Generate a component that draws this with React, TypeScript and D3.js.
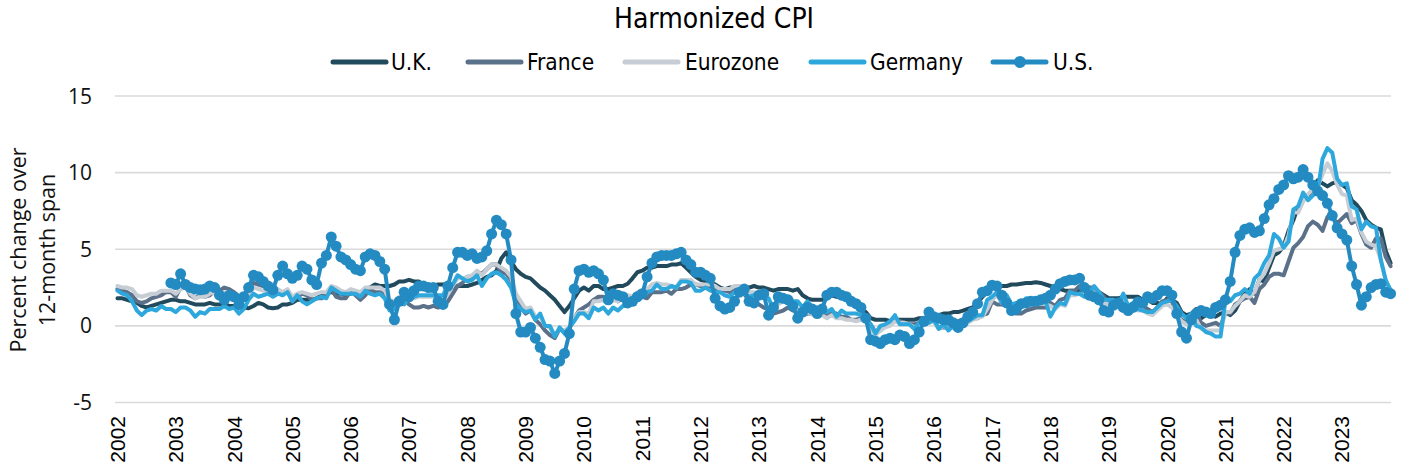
import React from "react";
import * as d3 from "d3";

const startYear = 2002;
const monthCount = 263; // Jan 2002 .. Nov 2023
const tickYears = [2002, 2003, 2004, 2005, 2006, 2007, 2008, 2009, 2010, 2011, 2012, 2013, 2014, 2015, 2016, 2017, 2018, 2019, 2020, 2021, 2022, 2023];
const yTicks = [-5, 0, 5, 10, 15];

const ukValues = [
  1.8,1.8,1.7,1.6,1.5,1.3,1.2,1.3,1.4,1.5,1.6,1.7,
  1.7,1.6,1.6,1.5,1.4,1.4,1.4,1.5,1.4,1.4,1.4,1.3,
  1.3,1.2,1.2,1.15,1.3,1.5,1.4,1.2,1.15,1.2,1.4,1.4,
  1.5,1.7,1.7,1.7,1.7,1.8,2.0,2.1,2.2,2.1,2.1,2.0,
  2.1,2.2,2.2,2.3,2.5,2.7,2.6,2.6,2.6,2.7,2.9,2.9,
  3.0,2.9,2.9,2.7,2.6,2.6,2.7,2.7,2.6,2.5,2.6,2.6,
  2.6,2.7,2.8,3.0,3.2,3.3,3.6,4.4,4.8,4.2,3.7,3.4,
  3.2,3.1,2.8,2.5,2.3,2.0,1.7,1.3,0.9,1.3,1.8,2.3,
  2.5,2.3,2.6,2.6,2.4,2.4,2.5,2.6,2.6,2.75,3.1,3.5,
  3.6,3.8,3.8,3.9,3.9,3.9,4.0,4.0,4.1,3.8,3.5,3.2,
  3.0,2.9,2.8,2.7,2.5,2.4,2.5,2.5,2.5,2.5,2.5,2.6,
  2.5,2.5,2.4,2.3,2.4,2.4,2.4,2.3,2.4,2.0,1.8,1.7,
  1.7,1.7,1.8,2.0,1.9,1.9,1.9,1.6,1.4,1.2,0.9,0.5,
  0.4,0.4,0.4,0.3,0.4,0.4,0.4,0.4,0.4,0.5,0.5,0.6,
  0.7,0.7,0.8,0.8,0.9,0.9,1.0,1.1,1.2,1.5,1.9,2.2,
  2.5,2.6,2.6,2.6,2.7,2.7,2.75,2.8,2.8,2.85,2.8,2.7,
  2.6,2.5,2.4,2.3,2.3,2.3,2.3,2.4,2.3,2.2,2.2,2.0,
  1.8,1.8,1.8,1.9,1.9,1.9,1.9,1.7,1.7,1.5,1.5,1.4,
  1.8,1.7,1.5,0.9,0.7,0.8,1.1,0.5,0.7,0.9,0.6,0.8,
  0.9,0.7,1.0,1.6,2.1,2.4,2.1,3.0,2.9,3.8,4.6,4.8,
  5.2,6.2,6.9,7.8,8.2,8.5,8.9,9.5,9.3,9.1,9.3,9.4,
  9.2,9.0,8.2,7.9,7.5,6.9,6.6,6.4,6.3,4.9,4.1,
];

const franceValues = [
  2.4,2.3,2.2,2.0,1.6,1.5,1.6,1.8,1.9,2.0,2.2,2.2,
  1.9,2.5,2.6,2.0,1.8,2.0,1.9,2.0,2.3,2.3,2.5,2.4,
  2.2,1.9,2.0,2.4,2.8,2.7,2.6,2.5,2.2,2.3,2.2,2.3,
  1.6,1.9,2.1,2.0,1.7,1.8,1.8,2.0,2.4,1.9,1.8,1.8,
  2.3,2.0,1.7,2.0,2.4,2.2,2.2,2.1,1.5,1.2,1.6,1.7,
  1.4,1.2,1.2,1.3,1.2,1.3,1.2,1.3,1.6,2.1,2.6,2.8,
  3.2,3.2,3.5,3.4,3.7,4.0,4.0,3.5,3.4,3.0,1.9,1.2,
  0.8,1.0,0.4,0.1,-0.3,-0.6,-0.8,-0.2,-0.4,-0.2,0.5,1.0,
  1.2,1.4,1.7,1.9,1.9,1.7,1.9,1.6,1.8,1.8,1.8,2.0,
  1.9,1.8,2.2,2.2,2.2,2.3,2.1,2.4,2.4,2.5,2.7,2.7,
  2.6,2.5,2.6,2.4,2.3,2.3,2.2,2.4,2.2,2.1,1.6,1.5,
  1.4,1.2,1.1,0.8,0.9,1.0,1.2,1.0,1.0,0.7,0.8,0.8,
  0.8,1.1,0.7,0.8,0.8,0.6,0.6,0.4,0.4,0.5,0.4,0.1,
  -0.4,-0.3,0.0,0.1,0.3,0.3,0.2,0.1,0.1,0.2,0.1,0.3,
  0.3,-0.1,-0.1,-0.1,0.1,0.3,0.4,0.4,0.5,0.5,0.7,0.8,
  1.6,1.4,1.4,1.4,0.9,0.8,0.8,1.0,1.1,1.2,1.2,1.2,
  1.5,1.3,1.7,1.8,2.3,2.3,2.6,2.6,2.5,2.5,2.2,1.9,
  1.4,1.6,1.3,1.5,1.1,1.4,1.3,1.3,1.1,0.9,1.2,1.6,
  1.7,1.6,0.8,0.4,0.2,0.2,0.9,0.2,0.0,0.1,0.2,0.0,
  0.8,0.8,1.4,1.6,1.8,1.9,1.5,2.4,2.7,3.2,3.4,3.4,
  3.3,4.2,5.1,5.4,5.8,6.5,6.8,6.6,6.2,7.1,7.1,6.7,
  7.0,7.3,6.7,6.9,6.0,5.3,5.1,5.7,5.7,4.5,3.9,
];

const eurozoneValues = [
  2.6,2.5,2.5,2.4,2.0,1.9,2.0,2.1,2.1,2.3,2.3,2.3,
  2.1,2.4,2.5,2.1,1.8,1.9,1.9,2.1,2.2,2.0,2.2,2.0,
  1.9,1.6,1.7,2.0,2.5,2.4,2.3,2.3,2.1,2.4,2.2,2.4,
  1.9,2.1,2.2,2.1,2.0,2.1,2.2,2.2,2.6,2.5,2.3,2.2,
  2.4,2.3,2.2,2.5,2.5,2.5,2.5,2.3,1.7,1.6,1.9,1.9,
  1.8,1.8,1.9,1.9,1.9,1.9,1.8,1.7,2.1,2.6,3.1,3.1,
  3.2,3.3,3.6,3.3,3.7,4.0,4.0,3.8,3.6,3.2,2.1,1.6,
  1.1,1.2,0.6,0.6,0.0,-0.1,-0.6,-0.2,-0.3,-0.1,0.5,0.9,
  0.9,0.8,1.6,1.6,1.7,1.5,1.7,1.6,1.9,2.0,1.9,2.2,
  2.3,2.4,2.7,2.8,2.7,2.7,2.6,2.5,3.0,3.0,3.0,2.7,
  2.7,2.7,2.7,2.6,2.4,2.4,2.4,2.6,2.6,2.5,2.2,2.2,
  2.0,1.8,1.7,1.2,1.4,1.6,1.6,1.3,1.1,0.7,0.9,0.8,
  0.8,0.7,0.5,0.7,0.5,0.5,0.4,0.4,0.3,0.4,0.3,-0.2,
  -0.6,-0.3,-0.1,0.0,0.3,0.2,0.2,0.1,-0.1,0.1,0.1,0.2,
  0.3,-0.2,0.0,-0.2,-0.1,0.1,0.2,0.2,0.4,0.5,0.6,1.1,
  1.7,2.0,1.5,1.9,1.4,1.3,1.3,1.5,1.5,1.4,1.5,1.4,
  1.3,1.1,1.4,1.3,2.0,2.0,2.1,2.0,2.1,2.2,1.9,1.5,
  1.4,1.5,1.4,1.7,1.2,1.3,1.0,1.0,0.8,0.7,1.0,1.3,
  1.4,1.2,0.7,0.3,0.1,0.3,0.4,-0.2,-0.3,-0.3,-0.3,-0.3,
  0.9,0.9,1.3,1.6,2.0,1.9,2.2,3.0,3.4,4.1,4.9,5.0,
  5.1,5.9,7.4,7.4,8.1,8.6,8.9,9.1,9.9,10.6,10.1,9.2,
  8.6,8.5,6.9,7.0,6.1,5.5,5.3,5.2,4.3,2.9,2.4,
];

const germanyValues = [
  2.3,2.1,2.0,1.6,1.0,0.7,1.0,1.1,1.0,1.3,1.1,1.1,
  0.9,1.2,1.2,1.0,0.6,0.9,0.8,1.1,1.1,1.1,1.3,1.1,
  1.2,0.8,1.1,1.7,2.1,1.9,2.0,2.1,1.9,2.1,2.0,2.2,
  1.6,2.0,1.6,1.4,1.6,1.8,1.9,1.8,2.5,2.3,2.1,2.1,
  2.1,2.1,1.9,2.3,2.1,2.0,2.1,1.8,1.0,1.1,1.5,1.4,
  1.8,1.9,2.0,2.0,2.0,2.0,2.0,2.0,2.7,2.7,3.3,3.1,
  2.9,3.0,3.3,2.6,3.1,3.4,3.5,3.3,3.0,2.5,1.4,1.1,
  0.9,1.0,0.4,0.8,0.0,0.0,-0.7,-0.1,-0.5,-0.1,0.3,0.8,
  0.8,0.5,1.2,1.0,1.2,0.8,1.2,1.0,1.3,1.3,1.6,1.9,
  2.0,2.2,2.3,2.7,2.4,2.4,2.6,2.5,2.9,2.9,2.8,2.3,
  2.3,2.5,2.3,2.2,2.2,2.0,1.9,2.2,2.1,2.1,1.9,2.0,
  1.9,1.8,1.8,1.1,1.6,1.9,1.9,1.6,1.6,1.2,1.6,1.2,
  1.2,1.0,0.9,1.1,0.6,1.0,0.8,0.8,0.8,0.7,0.5,0.1,
  -0.5,0.0,0.1,0.3,0.7,0.1,0.1,0.1,-0.2,0.2,0.3,0.2,
  0.4,-0.2,0.1,-0.3,0.0,0.2,0.4,0.3,0.5,0.7,0.7,1.7,
  1.9,2.2,1.5,2.0,1.4,1.5,1.5,1.8,1.8,1.5,1.8,1.6,
  0.6,1.2,1.5,1.4,2.2,2.1,2.1,1.9,2.2,2.6,2.2,1.7,
  1.7,1.7,1.4,2.1,1.3,1.5,1.1,1.0,0.9,0.9,1.2,1.5,
  1.6,1.7,1.3,0.8,0.5,0.8,0.0,-0.1,-0.4,-0.5,-0.7,-0.7,
  1.6,1.6,2.0,2.1,2.4,2.1,3.1,3.4,4.1,4.6,6.0,5.7,
  5.1,5.5,7.6,7.8,8.7,8.2,8.5,8.8,10.9,11.6,11.3,9.6,
  9.2,9.3,7.8,7.6,6.3,6.8,6.5,6.4,4.3,3.0,2.3,
];

const usValues: (number | null)[] = [
  null,null,null,null,null,null,null,null,null,null,null,2.8,
  2.7,3.4,2.7,2.5,2.4,2.35,2.4,2.6,2.5,2.0,1.7,2.0,
  1.9,1.4,1.9,2.5,3.3,3.2,2.9,2.6,2.35,3.3,3.9,3.4,
  3.1,3.3,3.9,3.7,3.0,2.7,4.1,4.6,5.8,5.2,4.5,4.3,
  4.0,3.7,3.6,4.5,4.7,4.6,4.2,3.7,1.4,0.4,1.6,2.2,
  1.9,2.3,2.6,2.6,2.5,2.5,1.6,1.4,2.6,3.8,4.8,4.8,
  4.6,4.7,4.4,4.5,4.9,6.0,6.9,6.6,6.0,4.3,0.8,-0.4,
  -0.4,-0.1,-0.8,-1.4,-2.2,-2.3,-3.1,-2.3,-1.8,-0.5,2.4,3.6,
  3.7,3.5,3.6,3.4,3.0,1.7,2.1,2.0,1.9,1.5,1.6,1.9,
  2.1,3.2,4.1,4.5,4.6,4.6,4.6,4.7,4.8,4.3,4.0,3.5,
  3.5,3.3,3.1,1.8,1.3,1.1,1.2,1.6,2.2,2.4,1.6,1.5,
  2.0,2.1,0.7,1.2,1.9,1.8,1.7,1.3,0.5,0.9,1.2,1.1,
  0.8,1.1,2.0,2.2,2.2,2.0,1.9,1.6,1.45,1.2,0.5,-0.9,
  -1.0,-1.15,-0.9,-0.8,-0.9,-0.6,-0.7,-1.15,-0.9,-0.4,0.3,0.9,
  0.6,0.5,0.4,0.4,0.2,-0.1,0.2,0.6,0.9,1.45,2.2,2.3,
  2.65,2.6,2.0,1.5,1.0,1.1,1.45,1.5,1.6,1.6,1.7,1.8,
  2.0,2.4,2.75,2.9,3.0,3.0,3.1,2.5,2.0,1.9,1.7,1.0,
  0.9,1.35,1.5,1.2,1.0,1.2,1.55,1.5,1.9,1.8,2.0,2.3,
  2.3,2.0,0.8,-0.4,-0.8,0.4,0.8,1.0,0.9,0.8,1.2,1.35,
  1.7,2.9,4.8,5.9,6.3,6.4,6.1,6.2,7.0,7.9,8.3,8.9,
  9.2,9.8,9.6,9.7,10.2,9.7,9.2,8.8,8.5,8.0,7.2,6.4,
  6.0,5.6,3.9,2.7,1.35,1.9,2.5,2.7,2.75,2.2,2.1,
];

const seriesNames = ["U.K.", "France", "Eurozone", "Germany", "U.S."];
const seriesColors = ["#224a5d", "#5b7189", "#c6cdd4", "#2ea8dc", "#248bc2"];
const seriesData = [ukValues, franceValues, eurozoneValues, germanyValues, usValues];

const W = 1405;
const H = 471;
const plotLeft = 115;
const plotRight = 1393;

export default function App() {
  const idx = d3.range(monthCount);
  const x = d3.scaleBand<number>().domain(idx).range([plotLeft, plotRight]);
  const cx = (i: number) => (x(i) as number) + x.bandwidth() / 2;
  const y = d3.scaleLinear().domain([-5, 15]).range([402.5, 96]);

  const line = d3
    .line<number | null>()
    .defined((d) => d !== null)
    .x((_, i) => cx(i))
    .y((d) => y(d as number));

  const legendItems = [
    { lx: 333, tx: 391 },
    { lx: 468, tx: 527 },
    { lx: 625, tx: 685 },
    { lx: 811, tx: 870 },
    { lx: 993, tx: 1053 },
  ];
  const legendY = 62;
  const condensed = "'DejaVu Sans Condensed', 'DejaVu Sans', sans-serif";

  return (
    <svg width={W} height={H} style={{ position: "absolute", left: 0, top: 0, background: "#fff" }}>
      <text x={714} y={28} textAnchor="middle" fontFamily={condensed} fontSize={28} fill="#000">
        Harmonized CPI
      </text>
      {seriesNames.map((name, k) => (
        <g key={name}>
          <line
            x1={legendItems[k].lx}
            x2={legendItems[k].lx + 53}
            y1={legendY}
            y2={legendY}
            stroke={seriesColors[k]}
            strokeWidth={5}
            strokeLinecap="round"
          />
          {k === 4 && <circle cx={legendItems[k].lx + 27} cy={legendY} r={6} fill={seriesColors[k]} />}
          <text x={legendItems[k].tx} y={legendY + 8} fontFamily={condensed} fontSize={22.5} fill="#000">
            {name}
          </text>
        </g>
      ))}
      {yTicks.map((t) => (
        <g key={t}>
          <line x1={plotLeft} x2={plotRight - 2} y1={y(t)} y2={y(t)} stroke="#dadada" strokeWidth={1.6} />
          <text x={92} y={y(t) + 7.5} textAnchor="end" fontFamily="'Open Sans', sans-serif" fontSize={21} fill="#111">
            {t}
          </text>
        </g>
      ))}
      <text transform="translate(26,250) rotate(-90)" textAnchor="middle" fontFamily="'Open Sans', sans-serif" fontSize={21.5} fill="#111">
        Percent change over
      </text>
      <text transform="translate(55,250) rotate(-90)" textAnchor="middle" fontFamily="'Open Sans', sans-serif" fontSize={21.5} fill="#111">
        12-month span
      </text>
      {tickYears.map((yr) => {
        const i = (yr - startYear) * 12;
        return (
          <text
            key={yr}
            transform={`translate(${cx(i) + 7.5},416) rotate(-90)`}
            textAnchor="end"
            fontFamily="'Liberation Sans', Arial, sans-serif"
            fontSize={21}
            fill="#000"
          >
            {yr}
          </text>
        );
      })}
      {seriesData.map((vals, k) => (
        <path
          key={seriesNames[k]}
          d={line(vals) || ""}
          fill="none"
          stroke={seriesColors[k]}
          strokeWidth={4}
          strokeLinejoin="round"
          strokeLinecap="round"
        />
      ))}
      {usValues.map((v, i) =>
        v === null ? null : <circle key={i} cx={cx(i)} cy={y(v)} r={5.5} fill={seriesColors[4]} />
      )}
    </svg>
  );
}
